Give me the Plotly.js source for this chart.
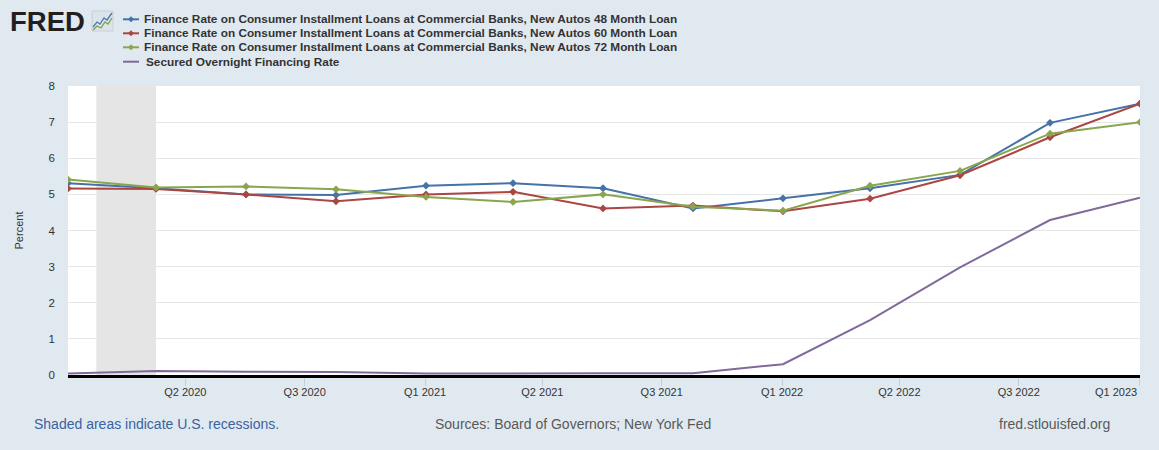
<!DOCTYPE html>
<html>
<head>
<meta charset="utf-8">
<script src="https://cdn.plot.ly/plotly-3.0.1.min.js"></script>
<style>
  html, body { margin: 0; padding: 0; background: #e1e9f0; }
  #chart { width: 1159px; height: 450px; }
</style>
</head>
<body>
<div id="chart"></div>
<script>
// ---- Data ----
const dates = ['2020-02-01','2020-05-01','2020-08-01','2020-11-01','2021-02-01','2021-05-01',
               '2021-08-01','2021-11-01','2022-02-01','2022-05-01','2022-08-01','2022-11-01','2023-02-01'];
const auto48 = [5.31, 5.17, 5.00, 4.98, 5.24, 5.31, 5.17, 4.61, 4.89, 5.17, 5.54, 6.98, 7.51];
const auto60 = [5.16, 5.15, 5.00, 4.81, 5.00, 5.07, 4.61, 4.69, 4.53, 4.88, 5.53, 6.58, 7.51];
const auto72 = [5.41, 5.19, 5.22, 5.14, 4.93, 4.79, 5.00, 4.66, 4.55, 5.24, 5.65, 6.68, 7.00];
const sofr   = [0.04, 0.11, 0.09, 0.08, 0.04, 0.05, 0.05, 0.05, 0.30, 1.52, 2.98, 4.29, 4.91];
const seriesNames = [
  'Finance Rate on Consumer Installment Loans at Commercial Banks, New Autos 48 Month Loan',
  'Finance Rate on Consumer Installment Loans at Commercial Banks, New Autos 60 Month Loan',
  'Finance Rate on Consumer Installment Loans at Commercial Banks, New Autos 72 Month Loan',
  'Secured Overnight Financing Rate'
];
const tickDates = ['2020-05-31','2020-09-30','2021-01-31','2021-05-31','2021-09-30',
                   '2022-01-31','2022-05-31','2022-09-30','2023-01-31'];
const tickLabels = ['Q2 2020','Q3 2020','Q1 2021','Q2 2021','Q3 2021','Q1 2022','Q2 2022','Q3 2022','Q1 2023'];
const recessionStart = '2020-03-01';
const recessionEnd = '2020-05-01';
const xRange = ['2020-02-01','2023-02-01'];
const yRange = [0, 8];

// ---- Styles ----
const colors = ['#4572A7', '#AA4643', '#89A54E', '#80699B'];
const FONT = 'Arial, "Liberation Sans", sans-serif';
const M = {l: 68, r: 19, t: 86, b: 75};
const W = 1159, H = 450;
const pw = W - M.l - M.r, ph = H - M.t - M.b;
const xp = X => (X - M.l) / pw;
const yp = Y => (H - M.b - Y) / ph;

const seriesVals = [auto48, auto60, auto72, sofr];
const traces = seriesVals.map((vals, i) => ({
  type: 'scatter',
  mode: i < 3 ? 'lines+markers' : 'lines',
  x: dates, y: vals, name: seriesNames[i],
  line: {color: colors[i], width: 2},
  marker: {symbol: 'diamond', size: 6, color: colors[i]},
  showlegend: false,
  hoverinfo: 'x+y'
}));

const shapes = [{
  type: 'rect', xref: 'x', yref: 'paper', x0: recessionStart, x1: recessionEnd, y0: 0, y1: 1,
  fillcolor: '#e5e5e5', line: {width: 0}, layer: 'below'
}];
const annotations = [];

// manual legend
const legY = [19.3, 33.3, 47.3, 61.7];
seriesNames.forEach((nm, i) => {
  shapes.push({type: 'line', xref: 'paper', yref: 'paper',
    x0: xp(123), x1: xp(139), y0: yp(legY[i]), y1: yp(legY[i]),
    line: {color: colors[i], width: 2}});
  if (i < 3) {
    const cx = 131, cy = legY[i], r = 3;
    shapes.push({type: 'path', xref: 'paper', yref: 'paper',
      path: `M ${xp(cx - r)} ${yp(cy)} L ${xp(cx)} ${yp(cy - r)} L ${xp(cx + r)} ${yp(cy)} L ${xp(cx)} ${yp(cy + r)} Z`,
      fillcolor: colors[i], line: {width: 0}});
  }
  annotations.push({xref: 'paper', yref: 'paper', x: xp(i < 3 ? 142 : 144), y: yp(legY[i]),
    xanchor: 'left', yanchor: 'middle', showarrow: false, text: nm,
    font: {family: FONT, size: 11.8, color: '#333333', weight: 'bold'}});
});

// FRED logo
annotations.push({xref: 'paper', yref: 'paper', x: xp(8), y: yp(21), xanchor: 'left', yanchor: 'middle',
  showarrow: false, text: 'FRED', font: {family: FONT, size: 27.5, color: '#231f20', weight: 'bold'}});
shapes.push({type: 'rect', xref: 'paper', yref: 'paper', x0: xp(92), x1: xp(113), y0: yp(11), y1: yp(31),
  fillcolor: '#dde3ea', line: {color: '#c8d0d8', width: 1}});
shapes.push({type: 'path', xref: 'paper', yref: 'paper',
  path: `M ${xp(93)} ${yp(27)} L ${xp(97)} ${yp(22)} L ${xp(100)} ${yp(24)} L ${xp(104)} ${yp(18)} L ${xp(107)} ${yp(20)} L ${xp(112)} ${yp(13)}`,
  line: {color: '#4a7ab0', width: 1.3}});
shapes.push({type: 'path', xref: 'paper', yref: 'paper',
  path: `M ${xp(93)} ${yp(30)} L ${xp(97)} ${yp(26)} L ${xp(101)} ${yp(28)} L ${xp(105)} ${yp(22)} L ${xp(108)} ${yp(24)} L ${xp(112)} ${yp(18)}`,
  line: {color: '#7da34a', width: 1.3}});

// footer
annotations.push({xref: 'paper', yref: 'paper', x: xp(32), y: yp(424), xanchor: 'left', yanchor: 'middle',
  showarrow: false, text: 'Shaded areas indicate U.S. recessions.', font: {family: FONT, size: 14, color: '#3a62a0'}});
annotations.push({xref: 'paper', yref: 'paper', x: xp(573), y: yp(424), xanchor: 'center', yanchor: 'middle',
  showarrow: false, text: 'Sources: Board of Governors; New York Fed', font: {family: FONT, size: 14, color: '#595959'}});
annotations.push({xref: 'paper', yref: 'paper', x: xp(1112), y: yp(424), xanchor: 'right', yanchor: 'middle',
  showarrow: false, text: 'fred.stlouisfed.org', font: {family: FONT, size: 14, color: '#595959'}});

// last tick label is right-aligned to its tick (as in the reference), so it is drawn as an annotation
const lastIdx = tickLabels.length - 1;
const ticktext = tickLabels.map((t, i) => i === lastIdx ? '' : t);
annotations.push({xref: 'x', yref: 'paper', x: tickDates[lastIdx], y: yp(391.5), xanchor: 'right', yanchor: 'middle',
  showarrow: false, text: tickLabels[lastIdx], font: {family: FONT, size: 11, color: '#333333'}});

const layout = {
  width: W, height: H,
  margin: M,
  paper_bgcolor: '#e1e9f0',
  plot_bgcolor: '#ffffff',
  font: {family: FONT, size: 11, color: '#333333'},
  showlegend: false,
  xaxis: {
    type: 'date', range: xRange,
    tickmode: 'array', tickvals: tickDates, ticktext: ticktext,
    ticks: 'outside', ticklen: 8, tickcolor: '#c0d0e0', tickwidth: 1,
    ticklabelstandoff: -3,
    showgrid: false, zeroline: false,
    showline: true, linecolor: '#000000', linewidth: 3, layer: 'below traces',
    tickfont: {family: FONT, size: 11, color: '#333333'}
  },
  yaxis: {
    range: yRange, tickmode: 'linear', tick0: 0, dtick: 1,
    showgrid: true, gridcolor: '#e6e6e6', gridwidth: 1,
    zeroline: false, showline: false, ticks: '',
    ticklabelstandoff: 12,
    tickfont: {family: FONT, size: 11.5, color: '#333333'},
    title: {text: 'Percent', standoff: 22, font: {family: FONT, size: 11, color: '#333333'}}
  },
  shapes: shapes,
  annotations: annotations
};

Plotly.newPlot('chart', traces, layout, {displayModeBar: false, staticPlot: true});
</script>
</body>
</html>
